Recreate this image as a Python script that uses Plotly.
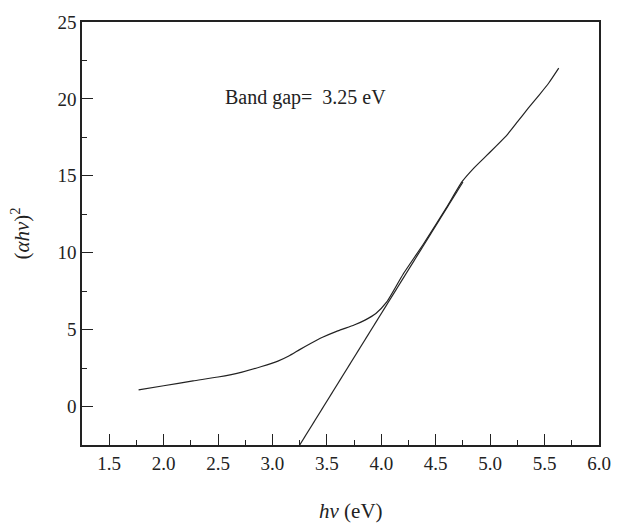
import plotly.graph_objects as go

# Measured curve (hν in eV, (αhν)^2)
curve_x = [1.77, 2.0, 2.27, 2.5, 2.72, 2.9, 3.05, 3.15, 3.25, 3.35, 3.46, 3.6, 3.75, 3.85, 3.95, 4.05, 4.2, 4.39, 4.6, 4.74, 4.85, 4.95, 5.05, 5.16, 5.25, 5.35, 5.45, 5.54, 5.63]
curve_y = [1.08, 1.35, 1.67, 1.92, 2.24, 2.6, 2.95, 3.28, 3.7, 4.1, 4.5, 4.92, 5.3, 5.62, 6.05, 6.8, 8.6, 10.6, 12.95, 14.6, 15.5, 16.2, 16.9, 17.7, 18.5, 19.4, 20.25, 21.05, 22.0]

# Tangent (linear fit) line
fit_x = [3.25, 4.75]
fit_y = [-2.5, 14.6]

x_ticks = [1.5, 2.0, 2.5, 3.0, 3.5, 4.0, 4.5, 5.0, 5.5, 6.0]
y_ticks = [0, 5, 10, 15, 20, 25]

FONT = "Liberation Serif"
LC = "#222222"

fig = go.Figure()
fig.add_trace(go.Scatter(x=curve_x, y=curve_y, mode="lines", line=dict(color=LC, width=1.2, shape="spline", smoothing=0.5), showlegend=False))
fig.add_trace(go.Scatter(x=fit_x, y=fit_y, mode="lines", line=dict(color=LC, width=1.2), showlegend=False))

axis_common = dict(showgrid=False, zeroline=False, showline=True, linecolor=LC, linewidth=1.5,
                   mirror=True, ticks="inside", ticklen=11, tickwidth=1.3, tickcolor=LC,
                   tickfont=dict(family=FONT, size=19, color="#222"))

fig.update_xaxes(range=[1.25, 6.0], tickvals=x_ticks, ticktext=[f"{v:.1f}" for v in x_ticks],
                 minor=dict(ticks="inside", ticklen=5, tickwidth=1.2, tickcolor=LC, dtick=0.5, tick0=1.25),
                 **axis_common)
fig.update_yaxes(range=[-2.5, 25], tickvals=y_ticks, ticktext=[str(v) for v in y_ticks],
                 minor=dict(ticks="inside", ticklen=5, tickwidth=1.2, tickcolor=LC, dtick=5, tick0=2.5),
                 **axis_common)

fig.add_annotation(x=2.55, y=20.1, xref="x", yref="y", text="Band gap=  3.25 eV", showarrow=False,
                   xanchor="left", yanchor="middle", font=dict(family=FONT, size=20, color="#222"))
fig.add_annotation(x=0.52, y=-0.155, xref="paper", yref="paper", text="<i>hν</i> (eV)", showarrow=False,
                   xanchor="center", yanchor="middle", font=dict(family=FONT, size=21, color="#222"))
fig.add_annotation(x=-0.118, y=0.5, xref="paper", yref="paper", text="(<i>αhν</i>)<sup>2</sup>", showarrow=False,
                   textangle=-90, xanchor="center", yanchor="middle", font=dict(family=FONT, size=21, color="#222"))

fig.update_layout(width=623, height=523, margin=dict(l=82, r=12, t=15, b=78),
                  plot_bgcolor="white", paper_bgcolor="white")

fig.write_html("out.html")
